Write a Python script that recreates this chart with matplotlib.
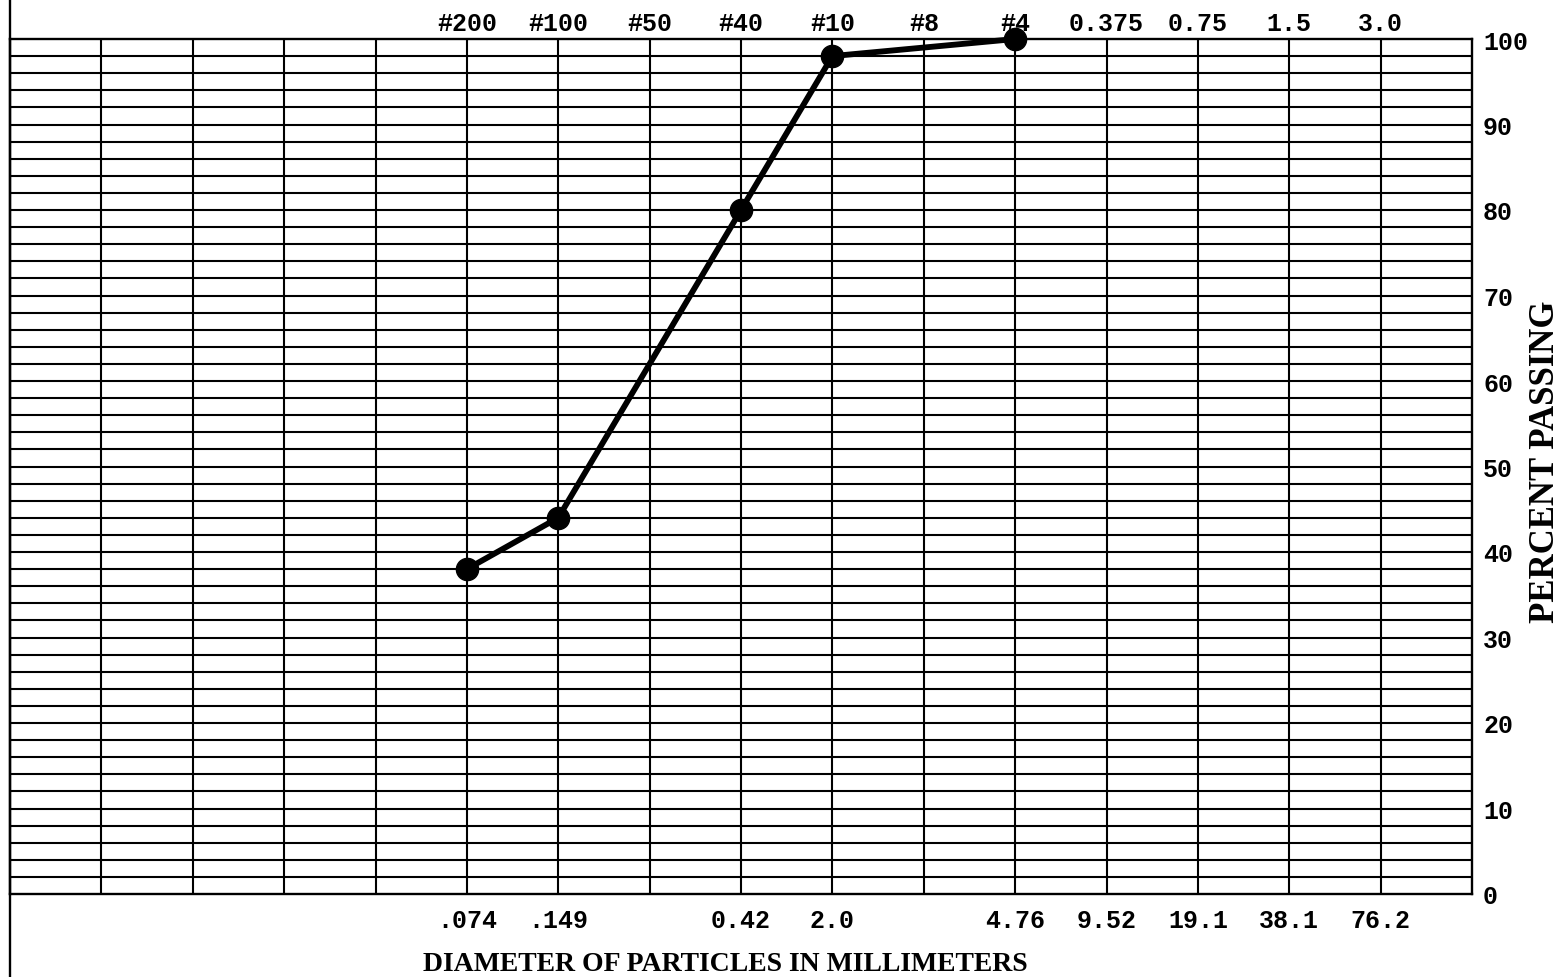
import matplotlib.pyplot as plt
from matplotlib.lines import Line2D

# sieve sizes across the top and particle diameters across the bottom
n_cols = 16
top_pos = [5, 6, 7, 8, 9, 10, 11, 12, 13, 14, 15]
top_labels = ['#200', '#100', '#50', '#40', '#10', '#8', '#4', '0.375', '0.75', '1.5', '3.0']
bottom_pos = [5, 6, 8, 9, 11, 12, 13, 14, 15]
bottom_labels = ['.074', '.149', '0.42', '2.0', '4.76', '9.52', '19.1', '38.1', '76.2']

# gradation curve
sample_pos = [5, 6, 8, 9, 11]
percent_passing = [38, 44, 80, 98, 100]

mono = 'Liberation Mono'
serif = 'Liberation Serif'

fig = plt.figure(figsize=(15.6, 9.78), dpi=100)
ax = fig.add_axes([10 / 1560, 1 - 895 / 978, 1462 / 1560, 855 / 978])

ax.set_xlim(0, n_cols)
ax.set_ylim(0, 100)

# grid: vertical every column, horizontal every 2 %
for x in range(1, n_cols):
    ax.axvline(x, color='black', lw=1.5, zorder=1)
for y in range(2, 100, 2):
    ax.axhline(y, color='black', lw=1.5, zorder=1)
for s in ax.spines.values():
    s.set_linewidth(1.7)

ax.plot(sample_pos, percent_passing, color='black', lw=4.2,
        marker='o', markersize=16, zorder=3, clip_on=False)

ax.set_xticks(bottom_pos)
ax.set_xticklabels(bottom_labels, family=mono, fontweight='bold', fontsize=18)
ax.tick_params(axis='x', length=0, pad=10)

top = ax.secondary_xaxis('top')
top.set_xticks(top_pos)
top.set_xticklabels(top_labels, family=mono, fontweight='bold', fontsize=18)
top.tick_params(axis='x', length=0, pad=3)
top.spines['top'].set_visible(False)

ax.yaxis.tick_right()
ax.set_yticks(range(0, 101, 10))
ax.set_yticklabels([str(v) for v in range(0, 101, 10)], family=mono,
                   fontweight='bold', fontsize=18)
ax.tick_params(axis='y', length=0, pad=8)

fig.text(725 / 1560, 1 - 965 / 978, 'DIAMETER OF PARTICLES IN MILLIMETERS',
         family=serif, fontweight='bold', fontsize=20, ha='center', va='center')
fig.text(1546 / 1560, 1 - 462 / 978, 'PERCENT PASSING', family=serif,
         fontweight='bold', fontsize=25, rotation=90, ha='center', va='center')

# left page edge line
fig.add_artist(Line2D([10 / 1560, 10 / 1560], [0, 1], color='black', lw=1.7))

fig.savefig('out.png', dpi=100, facecolor='white')
